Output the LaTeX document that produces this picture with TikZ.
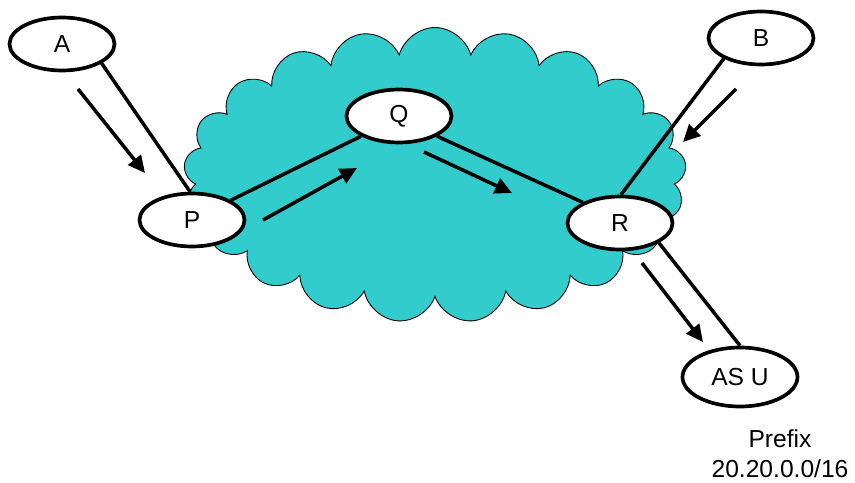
\documentclass[tikz,border=0pt]{standalone}
\usepackage{fontspec}
\setmainfont{Liberation Sans}
\definecolor{netcyan}{HTML}{33CCCC}
\usetikzlibrary{arrows.meta, shapes.geometric, shapes.symbols}

\begin{document}
\begin{tikzpicture}[x=0.02cm, y=-0.02cm,
    router/.style={ellipse, draw=black, fill=white, line width=2.1pt,
      minimum width=2.1cm, minimum height=1.06cm, inner sep=0pt,
      font=\fontsize{14}{17}\selectfont},
    link/.style={line width=2pt},
    flow/.style={line width=2pt, -{Triangle[length=0.34cm, width=0.32cm]}}]
    \useasboundingbox (0,0) rectangle (855,483);
    % --- Transit network ---
    \node[cloud, cloud puffs=21, cloud puff arc=150, cloud ignores aspect,
      fill=netcyan, draw=black, line width=0.5pt, minimum width=10.05cm,
      minimum height=5.9cm] (net) at (435,175) {};
    % --- Routers ---
    \node[router] (A) at (62,44) {A};
    \node[router] (P) at (192,220) {P};
    \node[router] (Q) at (399,116) {Q};
    \node[router] (R) at (620,223) {R};
    \node[router] (B) at (761,38) {B};
    \node[router, minimum width=2.3cm, minimum height=1.18cm]
      (U) at (740,377) {AS U};
    \node[align=center, font=\fontsize{14}{17}\selectfont]
      (pfx) at (780,454) {Prefix\\20.20.0.0/16};
    % Links
    \draw[link] (A.-26) -- (P.94);
    \draw[link] (P.27) -- (Q.-152);
    \draw[link] (Q.-28) -- (R.151);
    \draw[link] (B.-151) -- (R.88);
    \draw[link] (R.-27) -- (U.90);
    % --- Announcement flow ---
    \coordinate (a0) at (78,89);   \coordinate (a1) at (145,173);
    \coordinate (p0) at (263,220); \coordinate (p1) at (357,168);
    \coordinate (q0) at (424,152); \coordinate (q1) at (512,193);
    \coordinate (b0) at (736,89);  \coordinate (b1) at (683,142);
    \coordinate (r0) at (642,263); \coordinate (r1) at (703,342);
    \draw[flow] (a0) -- (a1);
    \draw[flow] (p0) -- (p1);
    \draw[flow] (q0) -- (q1);
    \draw[flow] (b0) -- (b1);
    \draw[flow] (r0) -- (r1);
\end{tikzpicture}
\end{document}
